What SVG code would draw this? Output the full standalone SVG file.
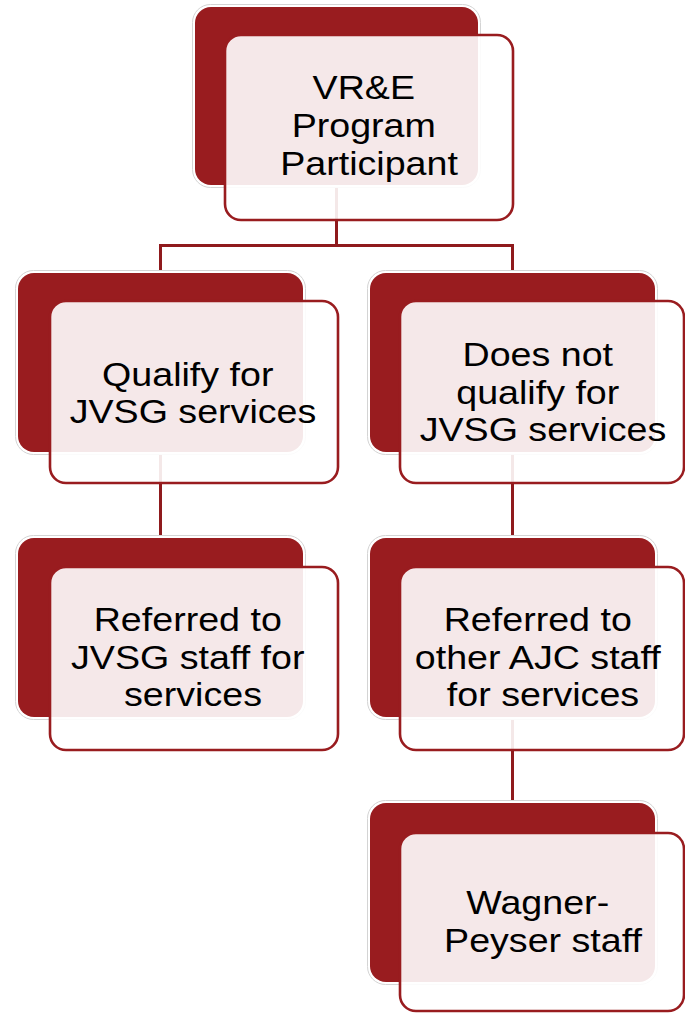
<svg xmlns="http://www.w3.org/2000/svg" width="685" height="1013" viewBox="0 0 685 1013">
  <style>
    .halo { fill: #ffffff; stroke: #d4d4d4; stroke-width: 1; }
    .back { fill: #991c1f; }
    .front { fill: #ffffff; fill-opacity: 0.9; stroke: #991c1f; stroke-width: 2.6; }
    .link { fill: none; stroke: #8f1a1d; stroke-width: 3; }
    .label { font-family: "Liberation Sans", Arial, sans-serif; font-size: 33px; fill: #000000; text-anchor: middle; }
  </style>

  <!-- tree connectors, drawn beneath the boxes -->
  <g id="connectors">
    <path class="link" d="M336.5,185 V245.5 M160.5,245.5 H512.5 M160.5,244 V272 M512.5,244 V272"/>
    <path class="link" d="M160.5,452 V537"/>
    <path class="link" d="M512.5,452 V537"/>
    <path class="link" d="M512.5,717 V802"/>
  </g>

  <g id="node-participant">
    <rect class="halo" x="192.5" y="4.5" width="288" height="183" rx="18"/>
    <rect class="back" x="195" y="7" width="283" height="178" rx="16"/>
    <rect class="front" x="225" y="35" width="288" height="185" rx="16"/>
    <text class="label" transform="translate(369 0) scale(1.14 1)">
      <tspan x="0" y="99">VR&amp;E</tspan>
      <tspan x="0" y="137">Program</tspan>
      <tspan x="0" y="175">Participant</tspan>
    </text>
  </g>

  <g id="node-qualify">
    <rect class="halo" x="15.5" y="270.5" width="290" height="184" rx="18"/>
    <rect class="back" x="18" y="273" width="285" height="179" rx="16"/>
    <rect class="front" x="50" y="301" width="288" height="182" rx="16"/>
    <text class="label" transform="translate(193 0) scale(1.14 1)">
      <tspan x="0" y="386">Qualify for</tspan>
      <tspan x="0" y="423">JVSG services</tspan>
    </text>
  </g>

  <g id="node-not-qualify">
    <rect class="halo" x="367.5" y="270.5" width="290" height="184" rx="18"/>
    <rect class="back" x="370" y="273" width="285" height="179" rx="16"/>
    <rect class="front" x="400" y="301" width="284" height="182" rx="16"/>
    <text class="label" transform="translate(543 0) scale(1.14 1)">
      <tspan x="0" y="366">Does not</tspan>
      <tspan x="0" y="404">qualify for</tspan>
      <tspan x="0" y="441">JVSG services</tspan>
    </text>
  </g>

  <g id="node-jvsg-staff">
    <rect class="halo" x="15.5" y="535.5" width="290" height="184" rx="18"/>
    <rect class="back" x="18" y="538" width="285" height="179" rx="16"/>
    <rect class="front" x="50" y="567" width="288" height="183" rx="16"/>
    <text class="label" transform="translate(193 0) scale(1.14 1)">
      <tspan x="0" y="631">Referred to</tspan>
      <tspan x="0" y="669">JVSG staff for</tspan>
      <tspan x="0" y="706">services</tspan>
    </text>
  </g>

  <g id="node-ajc-staff">
    <rect class="halo" x="367.5" y="535.5" width="290" height="184" rx="18"/>
    <rect class="back" x="370" y="538" width="285" height="179" rx="16"/>
    <rect class="front" x="400" y="567" width="284" height="183" rx="16"/>
    <text class="label" transform="translate(543 0) scale(1.14 1)">
      <tspan x="0" y="631">Referred to</tspan>
      <tspan x="0" y="669">other AJC staff</tspan>
      <tspan x="0" y="706">for services</tspan>
    </text>
  </g>

  <g id="node-wagner-peyser">
    <rect class="halo" x="367.5" y="800.5" width="290" height="184" rx="18"/>
    <rect class="back" x="370" y="803" width="285" height="179" rx="16"/>
    <rect class="front" x="400" y="833" width="284" height="178" rx="16"/>
    <text class="label" transform="translate(543 0) scale(1.14 1)">
      <tspan x="0" y="914">Wagner-</tspan>
      <tspan x="0" y="952">Peyser staff</tspan>
    </text>
  </g>
</svg>
